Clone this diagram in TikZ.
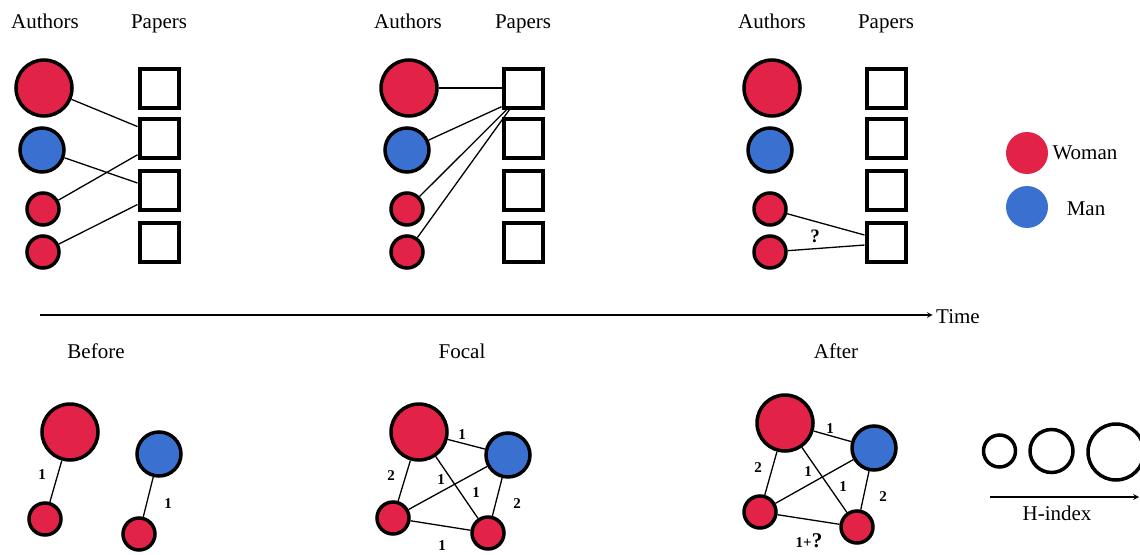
\documentclass[tikz,border=0pt]{standalone}
\usepackage{fontspec}
\setmainfont{Liberation Serif}
\usepackage{tikz}
\usetikzlibrary{arrows}
\definecolor{woman}{RGB}{227,34,72}
\definecolor{man}{RGB}{58,112,208}
\tikzstyle{author} = [circle, draw=black, line width=3.5pt, inner sep=0pt]
\tikzstyle{big} = [minimum size=56pt]
\tikzstyle{mid} = [minimum size=44pt]
\tikzstyle{small} = [minimum size=32pt]
\tikzstyle{paper} = [rectangle, draw=black, line width=4pt, minimum size=39pt, inner sep=0pt]
\tikzstyle{key} = [circle, minimum size=42pt, inner sep=0pt]
\tikzstyle{hcircle} = [circle, draw=black, line width=3.5pt, inner sep=0pt]
\tikzstyle{title} = [font=\fontsize{21}{24}\selectfont, anchor=base]
\tikzstyle{weight} = [font=\fontsize{15}{17}\selectfont\bfseries]
\tikzstyle{edge} = [line width=1.3pt]
\tikzstyle{arrow} = [line width=1.5pt,->,>=stealth]

\begin{document}
\begin{tikzpicture}[x=1pt, y=-1pt]
  \useasboundingbox (0,0) rectangle (1140,554);
  % bipartite panels
  \foreach \p/\ax/\px in {a/45/159, b/408/523, c/772/886}{
    \node (\p Au) [title] at (\ax,28) {Authors};
    \node (\p Pa) [title] at (\px,28) {Papers};
    \node (\p P1) [paper] at (\px,88) {};
    \node (\p P2) [paper] at (\px,138) {};
    \node (\p P3) [paper] at (\px,190) {};
    \node (\p P4) [paper] at (\px,242) {};
  }
  \node (aW1) [author, big, fill=woman] at (44,88) {};
  \node (aM1) [author, mid, fill=man] at (42,150) {};
  \node (aW2) [author, small, fill=woman] at (43,209) {};
  \node (aW3) [author, small, fill=woman] at (43,252) {};
  \node (bW1) [author, big, fill=woman] at (409,88) {};
  \node (bM1) [author, mid, fill=man] at (407,150) {};
  \node (bW2) [author, small, fill=woman] at (407,209) {};
  \node (bW3) [author, small, fill=woman] at (407,252) {};
  \node (cW1) [author, big, fill=woman] at (772,88) {};
  \node (cM1) [author, mid, fill=man] at (770,150) {};
  \node (cW2) [author, small, fill=woman] at (770,209) {};
  \node (cW3) [author, small, fill=woman] at (770,252) {};
  \draw[edge](aW1) -- (aP2.152);
  \draw[edge](aM1) -- (aP3.162);
  \draw[edge](aW2) -- (aP2.218);
  \draw[edge](aW3) -- (aP3.214);
  \draw[edge](bW1) -- (bP1.west);
  \draw[edge](bM1) -- (bP1.221);
  \draw[edge](bW2) -- (bP1.233);
  \draw[edge](bW3) -- (bP1.238);
  \draw[edge](cW2) -- (cP4.162);
  \draw[edge](cW3) -- (cP4.188);
  \node (cQ) [font=\fontsize{19}{21}\selectfont\bfseries] at (815,236) {?};
  % legend
  \node (keyW) [key, fill=woman] at (1027,153) {};
  \node (keyWt) [title, anchor=base west] at (1049,159) {Woman};
  \node (keyM) [key, fill=man] at (1027,207) {};
  \node (keyMt) [title] at (1086,215) {Man};
  % time axis
  \coordinate (t0) at (40,315);
  \node (time) [title] at (958,323) {Time};
  \draw[arrow](t0) -- (time.west |- t0);
  % collaboration networks
  \node (before) [title] at (96,358) {Before};
  \node (focal) [title] at (462,358) {Focal};
  \node (after) [title] at (836,358) {After};
  \node (dW1) [author, big, fill=woman] at (70,432) {};
  \node (dW2) [author, small, fill=woman] at (45,519) {};
  \node (dM1) [author, mid, fill=man] at (159,454) {};
  \node (dW3) [author, small, fill=woman] at (139,534) {};
  \draw[edge](dW1) -- (dW2);
  \draw[edge](dM1) -- (dW3);
  \node (d1) [weight] at (42,475) {1};
  \node (d2) [weight] at (168,504) {1};
  \node (eW1) [author, big, fill=woman] at (419,432) {};
  \node (eM1) [author, mid, fill=man] at (508,455) {};
  \node (eW2) [author, small, fill=woman] at (393,518) {};
  \node (eW3) [author, small, fill=woman] at (488,533) {};
  \draw[edge](eW1) -- (eM1);
  \draw[edge](eW1) -- (eW2);
  \draw[edge](eW1) -- (eW3);
  \draw[edge](eM1) -- (eW2);
  \draw[edge](eM1) -- (eW3);
  \draw[edge](eW2) -- (eW3);
  \node (e1) [weight] at (462,435) {1};
  \node (e2) [weight] at (391,476) {2};
  \node (e3) [weight] at (441,480) {1};
  \node (e4) [weight] at (476,493) {1};
  \node (e5) [weight] at (517,504) {2};
  \node (e6) [weight] at (442,546) {1};
  \node (fW1) [author, big, fill=woman] at (785,423) {};
  \node (fM1) [author, mid, fill=man] at (874,448) {};
  \node (fW2) [author, small, fill=woman] at (760,512) {};
  \node (fW3) [author, small, fill=woman] at (857,527) {};
  \draw[edge](fW1) -- (fM1);
  \draw[edge](fW1) -- (fW2);
  \draw[edge](fW1) -- (fW3);
  \draw[edge](fM1) -- (fW2);
  \draw[edge](fM1) -- (fW3);
  \draw[edge](fW2) -- (fW3);
  \node (f1) [weight] at (830,429) {1};
  \node (f2) [weight] at (758,468) {2};
  \node (f3) [weight] at (808,472) {1};
  \node (f4) [weight] at (843,487) {1};
  \node (f5) [weight] at (883,497) {2};
  \node (f6) [weight] at (809,541) {1+{\fontsize{21}{23}\selectfont ?}};
  % h-index scale
  \node (h1) [hcircle, minimum size=32pt] at (999.5,451) {};
  \node (h2) [hcircle, minimum size=43pt] at (1051.5,451) {};
  \node (h3) [hcircle, minimum size=56pt] at (1116,452) {};
  \coordinate (h0) at (990,497);
  \coordinate (hend) at (1139,497);
  \draw[arrow](h0) -- (hend);
  \node (hidx) [title] at (1057,520) {H-index};
\end{tikzpicture}
\end{document}
